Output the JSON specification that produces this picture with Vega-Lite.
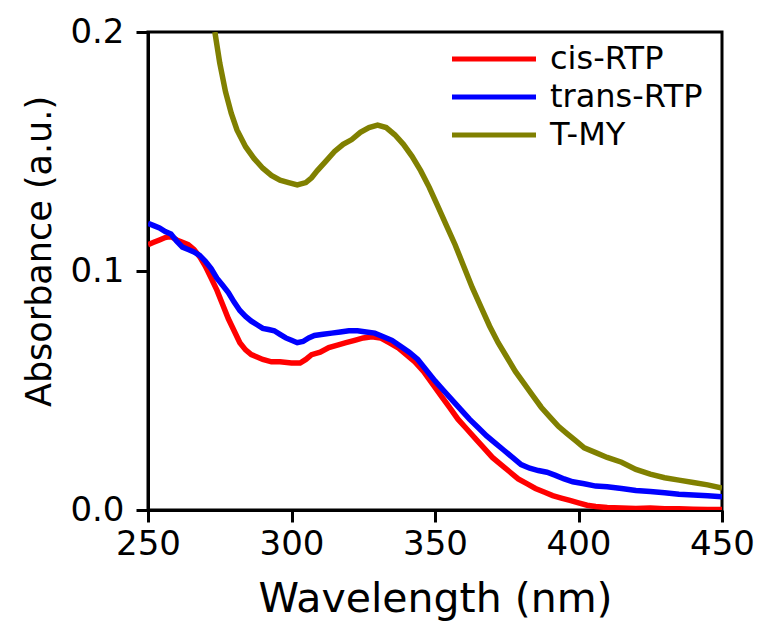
{
  "$schema": "https://vega.github.io/schema/vega-lite/v6.json",
  "width": 574,
  "height": 478,
  "autosize": {"type": "none"},
  "padding": {"left": 148, "top": 32, "right": 39, "bottom": 113},
  "background": "white",
  "config": {
    "view": {"stroke": "black", "strokeWidth": 3},
    "font": "DejaVu Sans",
    "axis": {
      "grid": false,
      "domainColor": "black",
      "domainWidth": 3,
      "tickColor": "black",
      "tickWidth": 3,
      "tickSize": 12,
      "labelColor": "black",
      "titleColor": "black",
      "labelFont": "DejaVu Sans",
      "titleFont": "DejaVu Sans",
      "labelFontSize": 34,
      "titleFontWeight": "normal"
    }
  },
  "data": {
    "values": [
      {"series": "cis-RTP", "wl": 250, "abs": 0.111},
      {"series": "cis-RTP", "wl": 252, "abs": 0.112},
      {"series": "cis-RTP", "wl": 254, "abs": 0.113},
      {"series": "cis-RTP", "wl": 256, "abs": 0.114},
      {"series": "cis-RTP", "wl": 258, "abs": 0.1145},
      {"series": "cis-RTP", "wl": 260, "abs": 0.113},
      {"series": "cis-RTP", "wl": 262, "abs": 0.112},
      {"series": "cis-RTP", "wl": 264, "abs": 0.111},
      {"series": "cis-RTP", "wl": 266, "abs": 0.109},
      {"series": "cis-RTP", "wl": 268, "abs": 0.106},
      {"series": "cis-RTP", "wl": 270, "abs": 0.102},
      {"series": "cis-RTP", "wl": 272, "abs": 0.097},
      {"series": "cis-RTP", "wl": 274, "abs": 0.092},
      {"series": "cis-RTP", "wl": 276, "abs": 0.086},
      {"series": "cis-RTP", "wl": 278, "abs": 0.080},
      {"series": "cis-RTP", "wl": 280, "abs": 0.075},
      {"series": "cis-RTP", "wl": 282, "abs": 0.070},
      {"series": "cis-RTP", "wl": 284, "abs": 0.067},
      {"series": "cis-RTP", "wl": 286, "abs": 0.065},
      {"series": "cis-RTP", "wl": 288, "abs": 0.064},
      {"series": "cis-RTP", "wl": 290, "abs": 0.063},
      {"series": "cis-RTP", "wl": 293, "abs": 0.062},
      {"series": "cis-RTP", "wl": 296, "abs": 0.062},
      {"series": "cis-RTP", "wl": 300, "abs": 0.0615},
      {"series": "cis-RTP", "wl": 303, "abs": 0.0615},
      {"series": "cis-RTP", "wl": 305, "abs": 0.063},
      {"series": "cis-RTP", "wl": 307, "abs": 0.065},
      {"series": "cis-RTP", "wl": 310, "abs": 0.066},
      {"series": "cis-RTP", "wl": 313, "abs": 0.068},
      {"series": "cis-RTP", "wl": 316, "abs": 0.069},
      {"series": "cis-RTP", "wl": 319, "abs": 0.070},
      {"series": "cis-RTP", "wl": 322, "abs": 0.071},
      {"series": "cis-RTP", "wl": 325, "abs": 0.072},
      {"series": "cis-RTP", "wl": 328, "abs": 0.0725},
      {"series": "cis-RTP", "wl": 331, "abs": 0.072},
      {"series": "cis-RTP", "wl": 334, "abs": 0.070},
      {"series": "cis-RTP", "wl": 337, "abs": 0.068},
      {"series": "cis-RTP", "wl": 340, "abs": 0.065},
      {"series": "cis-RTP", "wl": 343, "abs": 0.062},
      {"series": "cis-RTP", "wl": 346, "abs": 0.058},
      {"series": "cis-RTP", "wl": 349, "abs": 0.053},
      {"series": "cis-RTP", "wl": 352, "abs": 0.048},
      {"series": "cis-RTP", "wl": 355, "abs": 0.043},
      {"series": "cis-RTP", "wl": 358, "abs": 0.038},
      {"series": "cis-RTP", "wl": 361, "abs": 0.034},
      {"series": "cis-RTP", "wl": 364, "abs": 0.030},
      {"series": "cis-RTP", "wl": 367, "abs": 0.026},
      {"series": "cis-RTP", "wl": 370, "abs": 0.022},
      {"series": "cis-RTP", "wl": 373, "abs": 0.019},
      {"series": "cis-RTP", "wl": 376, "abs": 0.016},
      {"series": "cis-RTP", "wl": 379, "abs": 0.013},
      {"series": "cis-RTP", "wl": 382, "abs": 0.011},
      {"series": "cis-RTP", "wl": 385, "abs": 0.009},
      {"series": "cis-RTP", "wl": 388, "abs": 0.0075},
      {"series": "cis-RTP", "wl": 391, "abs": 0.006},
      {"series": "cis-RTP", "wl": 394, "abs": 0.005},
      {"series": "cis-RTP", "wl": 397, "abs": 0.004},
      {"series": "cis-RTP", "wl": 400, "abs": 0.003},
      {"series": "cis-RTP", "wl": 403, "abs": 0.002},
      {"series": "cis-RTP", "wl": 406, "abs": 0.0015},
      {"series": "cis-RTP", "wl": 410, "abs": 0.001},
      {"series": "cis-RTP", "wl": 415, "abs": 0.0008},
      {"series": "cis-RTP", "wl": 420, "abs": 0.0006},
      {"series": "cis-RTP", "wl": 425, "abs": 0.0008},
      {"series": "cis-RTP", "wl": 430, "abs": 0.0005},
      {"series": "cis-RTP", "wl": 435, "abs": 0.0005},
      {"series": "cis-RTP", "wl": 440, "abs": 0.0003},
      {"series": "cis-RTP", "wl": 445, "abs": 0.0002},
      {"series": "cis-RTP", "wl": 450, "abs": 0.0002},

      {"series": "trans-RTP", "wl": 250, "abs": 0.120},
      {"series": "trans-RTP", "wl": 252, "abs": 0.119},
      {"series": "trans-RTP", "wl": 254, "abs": 0.118},
      {"series": "trans-RTP", "wl": 256, "abs": 0.1165},
      {"series": "trans-RTP", "wl": 258, "abs": 0.1155},
      {"series": "trans-RTP", "wl": 260, "abs": 0.1125},
      {"series": "trans-RTP", "wl": 262, "abs": 0.110},
      {"series": "trans-RTP", "wl": 264, "abs": 0.109},
      {"series": "trans-RTP", "wl": 266, "abs": 0.108},
      {"series": "trans-RTP", "wl": 268, "abs": 0.1065},
      {"series": "trans-RTP", "wl": 270, "abs": 0.104},
      {"series": "trans-RTP", "wl": 272, "abs": 0.101},
      {"series": "trans-RTP", "wl": 274, "abs": 0.097},
      {"series": "trans-RTP", "wl": 276, "abs": 0.094},
      {"series": "trans-RTP", "wl": 278, "abs": 0.091},
      {"series": "trans-RTP", "wl": 280, "abs": 0.087},
      {"series": "trans-RTP", "wl": 282, "abs": 0.0835},
      {"series": "trans-RTP", "wl": 284, "abs": 0.081},
      {"series": "trans-RTP", "wl": 286, "abs": 0.079},
      {"series": "trans-RTP", "wl": 288, "abs": 0.0775},
      {"series": "trans-RTP", "wl": 290, "abs": 0.076},
      {"series": "trans-RTP", "wl": 292, "abs": 0.0755},
      {"series": "trans-RTP", "wl": 294, "abs": 0.075},
      {"series": "trans-RTP", "wl": 296, "abs": 0.0735},
      {"series": "trans-RTP", "wl": 298, "abs": 0.072},
      {"series": "trans-RTP", "wl": 300, "abs": 0.071},
      {"series": "trans-RTP", "wl": 302, "abs": 0.070},
      {"series": "trans-RTP", "wl": 304, "abs": 0.0705},
      {"series": "trans-RTP", "wl": 306, "abs": 0.072},
      {"series": "trans-RTP", "wl": 308, "abs": 0.073},
      {"series": "trans-RTP", "wl": 311, "abs": 0.0735},
      {"series": "trans-RTP", "wl": 314, "abs": 0.074},
      {"series": "trans-RTP", "wl": 317, "abs": 0.0745},
      {"series": "trans-RTP", "wl": 320, "abs": 0.075},
      {"series": "trans-RTP", "wl": 323, "abs": 0.075},
      {"series": "trans-RTP", "wl": 326, "abs": 0.0745},
      {"series": "trans-RTP", "wl": 329, "abs": 0.074},
      {"series": "trans-RTP", "wl": 332, "abs": 0.0725},
      {"series": "trans-RTP", "wl": 335, "abs": 0.071},
      {"series": "trans-RTP", "wl": 338, "abs": 0.0685},
      {"series": "trans-RTP", "wl": 341, "abs": 0.066},
      {"series": "trans-RTP", "wl": 344, "abs": 0.063},
      {"series": "trans-RTP", "wl": 347, "abs": 0.0585},
      {"series": "trans-RTP", "wl": 350, "abs": 0.054},
      {"series": "trans-RTP", "wl": 353, "abs": 0.050},
      {"series": "trans-RTP", "wl": 356, "abs": 0.046},
      {"series": "trans-RTP", "wl": 359, "abs": 0.042},
      {"series": "trans-RTP", "wl": 362, "abs": 0.038},
      {"series": "trans-RTP", "wl": 365, "abs": 0.0345},
      {"series": "trans-RTP", "wl": 368, "abs": 0.031},
      {"series": "trans-RTP", "wl": 371, "abs": 0.028},
      {"series": "trans-RTP", "wl": 374, "abs": 0.025},
      {"series": "trans-RTP", "wl": 377, "abs": 0.022},
      {"series": "trans-RTP", "wl": 380, "abs": 0.019},
      {"series": "trans-RTP", "wl": 383, "abs": 0.0175},
      {"series": "trans-RTP", "wl": 386, "abs": 0.0165},
      {"series": "trans-RTP", "wl": 389, "abs": 0.0158},
      {"series": "trans-RTP", "wl": 392, "abs": 0.0145},
      {"series": "trans-RTP", "wl": 395, "abs": 0.013},
      {"series": "trans-RTP", "wl": 398, "abs": 0.0118},
      {"series": "trans-RTP", "wl": 402, "abs": 0.011},
      {"series": "trans-RTP", "wl": 406, "abs": 0.010},
      {"series": "trans-RTP", "wl": 410, "abs": 0.0097},
      {"series": "trans-RTP", "wl": 415, "abs": 0.009},
      {"series": "trans-RTP", "wl": 420, "abs": 0.0082},
      {"series": "trans-RTP", "wl": 425, "abs": 0.0077},
      {"series": "trans-RTP", "wl": 430, "abs": 0.0072},
      {"series": "trans-RTP", "wl": 435, "abs": 0.0066},
      {"series": "trans-RTP", "wl": 440, "abs": 0.0063},
      {"series": "trans-RTP", "wl": 445, "abs": 0.006},
      {"series": "trans-RTP", "wl": 450, "abs": 0.0055},

      {"series": "T-MY", "wl": 273.3, "abs": 0.200},
      {"series": "T-MY", "wl": 275, "abs": 0.187},
      {"series": "T-MY", "wl": 277, "abs": 0.175},
      {"series": "T-MY", "wl": 279, "abs": 0.166},
      {"series": "T-MY", "wl": 281, "abs": 0.159},
      {"series": "T-MY", "wl": 284, "abs": 0.152},
      {"series": "T-MY", "wl": 287, "abs": 0.147},
      {"series": "T-MY", "wl": 290, "abs": 0.143},
      {"series": "T-MY", "wl": 293, "abs": 0.140},
      {"series": "T-MY", "wl": 296, "abs": 0.138},
      {"series": "T-MY", "wl": 299, "abs": 0.137},
      {"series": "T-MY", "wl": 302, "abs": 0.136},
      {"series": "T-MY", "wl": 305, "abs": 0.137},
      {"series": "T-MY", "wl": 307, "abs": 0.139},
      {"series": "T-MY", "wl": 309, "abs": 0.142},
      {"series": "T-MY", "wl": 312, "abs": 0.146},
      {"series": "T-MY", "wl": 315, "abs": 0.150},
      {"series": "T-MY", "wl": 318, "abs": 0.153},
      {"series": "T-MY", "wl": 321, "abs": 0.155},
      {"series": "T-MY", "wl": 324, "abs": 0.158},
      {"series": "T-MY", "wl": 327, "abs": 0.160},
      {"series": "T-MY", "wl": 330, "abs": 0.161},
      {"series": "T-MY", "wl": 333, "abs": 0.160},
      {"series": "T-MY", "wl": 336, "abs": 0.157},
      {"series": "T-MY", "wl": 339, "abs": 0.153},
      {"series": "T-MY", "wl": 342, "abs": 0.148},
      {"series": "T-MY", "wl": 345, "abs": 0.142},
      {"series": "T-MY", "wl": 348, "abs": 0.135},
      {"series": "T-MY", "wl": 351, "abs": 0.127},
      {"series": "T-MY", "wl": 354, "abs": 0.119},
      {"series": "T-MY", "wl": 357, "abs": 0.111},
      {"series": "T-MY", "wl": 360, "abs": 0.102},
      {"series": "T-MY", "wl": 363, "abs": 0.093},
      {"series": "T-MY", "wl": 366, "abs": 0.085},
      {"series": "T-MY", "wl": 369, "abs": 0.077},
      {"series": "T-MY", "wl": 372, "abs": 0.070},
      {"series": "T-MY", "wl": 375, "abs": 0.064},
      {"series": "T-MY", "wl": 378, "abs": 0.058},
      {"series": "T-MY", "wl": 381, "abs": 0.053},
      {"series": "T-MY", "wl": 384, "abs": 0.048},
      {"series": "T-MY", "wl": 387, "abs": 0.043},
      {"series": "T-MY", "wl": 390, "abs": 0.039},
      {"series": "T-MY", "wl": 393, "abs": 0.035},
      {"series": "T-MY", "wl": 396, "abs": 0.032},
      {"series": "T-MY", "wl": 399, "abs": 0.029},
      {"series": "T-MY", "wl": 402, "abs": 0.026},
      {"series": "T-MY", "wl": 406, "abs": 0.024},
      {"series": "T-MY", "wl": 410, "abs": 0.022},
      {"series": "T-MY", "wl": 415, "abs": 0.020},
      {"series": "T-MY", "wl": 420, "abs": 0.017},
      {"series": "T-MY", "wl": 425, "abs": 0.015},
      {"series": "T-MY", "wl": 430, "abs": 0.0135},
      {"series": "T-MY", "wl": 435, "abs": 0.0125},
      {"series": "T-MY", "wl": 440, "abs": 0.0115},
      {"series": "T-MY", "wl": 445, "abs": 0.0105},
      {"series": "T-MY", "wl": 450, "abs": 0.0092}
    ]
  },
  "mark": {"type": "line", "strokeWidth": 5.5, "clip": true},
  "encoding": {
    "x": {
      "field": "wl",
      "type": "quantitative",
      "scale": {"domain": [250, 450], "nice": false, "zero": false},
      "axis": {
        "title": "Wavelength (nm)",
        "titleFontSize": 41,
        "titlePadding": 18,
        "values": [250, 300, 350, 400, 450],
        "labelPadding": 5,
        "labelFlush": false
      }
    },
    "y": {
      "field": "abs",
      "type": "quantitative",
      "scale": {"domain": [0, 0.2], "nice": false},
      "axis": {
        "title": "Absorbance (a.u.)",
        "titleFontSize": 35,
        "titlePadding": 12,
        "titleY": 219,
        "values": [0, 0.1, 0.2],
        "format": ".1f",
        "labelPadding": 12,
        "labelFlush": false
      }
    },
    "color": {
      "field": "series",
      "type": "nominal",
      "scale": {
        "domain": ["cis-RTP", "trans-RTP", "T-MY"],
        "range": ["#ff0000", "#0000ff", "#808000"]
      },
      "legend": {
        "title": null,
        "orient": "none",
        "legendX": 330,
        "legendY": 11,
        "padding": 0,
        "symbolType": "M-4,0H4",
        "symbolSize": 441,
        "symbolStrokeWidth": 5,
        "labelFontSize": 32,
        "labelFont": "DejaVu Sans",
        "labelColor": "black",
        "labelOffset": 40,
        "rowPadding": 6
      }
    }
  }
}
